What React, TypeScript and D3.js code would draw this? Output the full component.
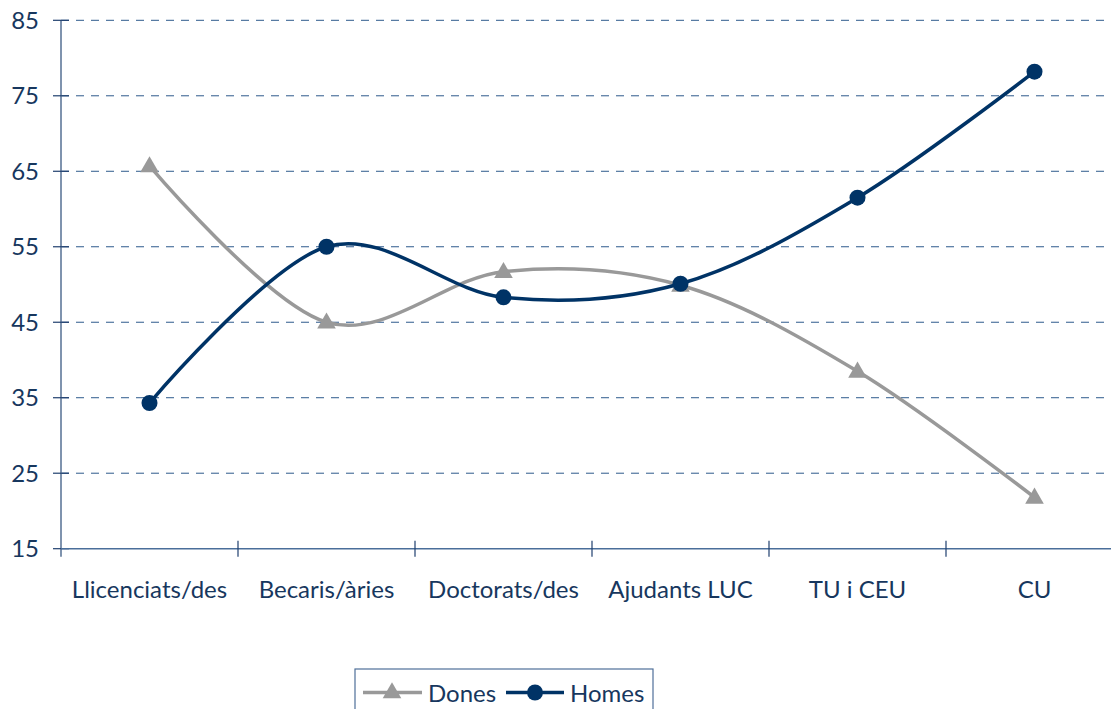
import React from "react";
import * as d3 from "d3";

const categories = ["Llicenciats/des", "Becaris/àries", "Doctorats/des", "Ajudants LUC", "TU i CEU", "CU"];
const dones = [65.7, 45.0, 51.7, 49.9, 38.5, 21.8];
const homes = [34.3, 55.0, 48.3, 50.1, 61.5, 78.2];
const yTicks = [15, 25, 35, 45, 55, 65, 75, 85];

const W = 1111;
const H = 709;
const left = 61;
const band = 177;
const top = 20.3;
const bottom = 548.7;

const TEXT = "#17375E";
const NAVY = "#003366";
const GREY = "#999999";
const FONT = "Lato, 'Open Sans', sans-serif";

const App = () => {
  const x = d3
    .scaleBand<string>()
    .domain(categories)
    .range([left, left + band * categories.length])
    .paddingInner(0)
    .paddingOuter(0);
  const y = d3.scaleLinear().domain([15, 85]).range([bottom, top]);
  const cx = (c: string) => (x(c) as number) + x.bandwidth() / 2;

  const line = d3
    .line<number>()
    .x((_, i) => cx(categories[i]))
    .y((d) => y(d))
    .curve(d3.curveCardinal.tension(0));

  const tri = d3.symbol().type(d3.symbolTriangle).size(150)();
  const xEnd = left + band * categories.length;

  return (
    <svg
      width={W}
      height={H}
      style={{ position: "absolute", left: 0, top: 0, background: "#fff" }}
      fontFamily={FONT}
    >
      {/* grid */}
      {yTicks.slice(1).map((t) => (
        <line
          key={t}
          x1={left}
          x2={xEnd}
          y1={y(t)}
          y2={y(t)}
          stroke="#2E5A8C"
          strokeWidth={1}
          strokeDasharray="8,7"
        />
      ))}
      {/* y axis */}
      <line x1={left} x2={left} y1={top} y2={bottom + 8} stroke="#7F93AE" strokeWidth={2} />
      {yTicks.map((t) => (
        <g key={t}>
          <line x1={left - 8} x2={left + 8} y1={y(t)} y2={y(t)} stroke="#1F3F6E" strokeWidth={1.2} />
          <text x={39} y={y(t)} dy="0.35em" textAnchor="end" fontSize={24} fill={TEXT}>
            {t}
          </text>
        </g>
      ))}
      {/* x axis */}
      <line x1={left} x2={xEnd} y1={bottom} y2={bottom} stroke="#4A6E9A" strokeWidth={1.5} />
      {categories.map((c, i) => (
        <g key={c}>
          {i > 0 && (
            <line
              x1={x(c) as number}
              x2={x(c) as number}
              y1={bottom - 8}
              y2={bottom + 8}
              stroke="#1F3F6E"
              strokeWidth={1.2}
            />
          )}
          <text x={cx(c)} y={590} dy="0.35em" textAnchor="middle" fontSize={24} fill={TEXT}>
            {c}
          </text>
        </g>
      ))}
      {/* series */}
      <path d={line(dones) ?? ""} fill="none" stroke={GREY} strokeWidth={3.5} />
      <path d={line(homes) ?? ""} fill="none" stroke={NAVY} strokeWidth={3.5} />
      {dones.map((v, i) => (
        <path key={i} d={tri ?? ""} transform={`translate(${cx(categories[i])},${y(v) + 1})`} fill={GREY} />
      ))}
      {homes.map((v, i) => (
        <circle key={i} cx={cx(categories[i])} cy={y(v)} r={8} fill={NAVY} />
      ))}
      {/* legend */}
      <rect x={355} y={669} width={298} height={60} fill="#fff" stroke="#4F6F99" strokeWidth={1.2} />
      <line x1={363} x2={422} y1={692.5} y2={692.5} stroke={GREY} strokeWidth={3.5} />
      <path d={tri ?? ""} transform="translate(392,693)" fill={GREY} />
      <text x={428} y={702} fontSize={24} fill={TEXT}>
        Dones
      </text>
      <line x1={506} x2={564} y1={692.5} y2={692.5} stroke={NAVY} strokeWidth={3.5} />
      <circle cx={535} cy={692.5} r={8} fill={NAVY} />
      <text x={570} y={702} fontSize={24} fill={TEXT}>
        Homes
      </text>
    </svg>
  );
};

export default App;
